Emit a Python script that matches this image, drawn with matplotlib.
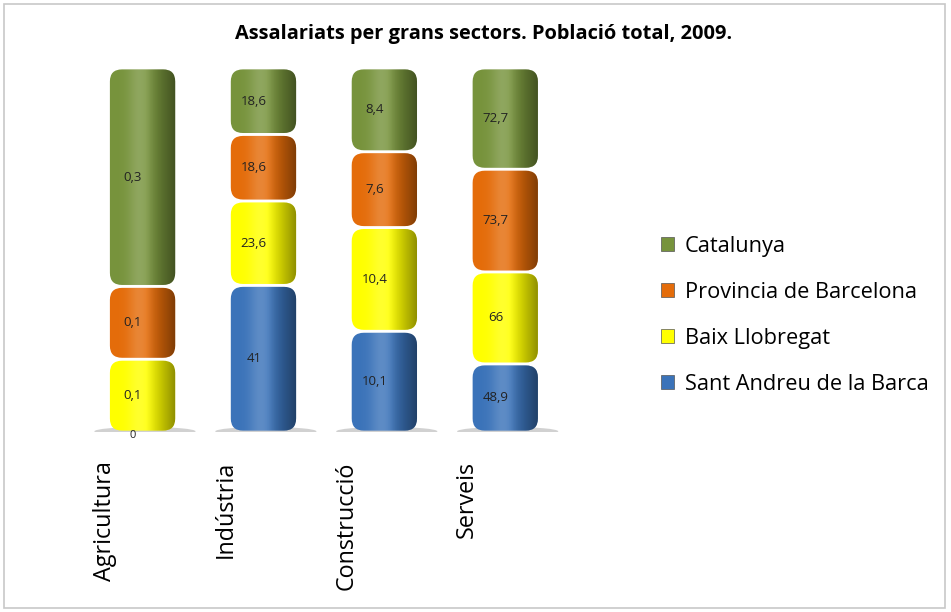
import numpy as np
import matplotlib
matplotlib.use("Agg")
import matplotlib.pyplot as plt
import matplotlib.transforms as mtransforms
from matplotlib.patches import FancyBboxPatch, Rectangle, Ellipse

plt.rcParams['font.family'] = ['Open Sans', 'DejaVu Sans']

title = 'Assalariats per grans sectors. Població total, 2009.'
sectors = ['Agricultura', 'Indústria', 'Construcció', 'Serveis']
series = ['Sant Andreu de la Barca', 'Baix Llobregat', 'Provincia de Barcelona', 'Catalunya']
sant_andreu = [0, 41, 10.1, 48.9]
baix_llobregat = [0.1, 23.6, 10.4, 66]
provincia_bcn = [0.1, 18.6, 7.6, 73.7]
catalunya = [0.3, 18.6, 8.4, 72.7]
colors = ['#3b73b9', '#ffff00', '#e46c0a', '#77933c']

values = np.array([sant_andreu, baix_llobregat, provincia_bcn, catalunya])
pct = values / values.sum(axis=0) * 100

fig = plt.figure(figsize=(9.51, 6.12), dpi=100)
# chart border
fig.patches.append(Rectangle((0.004, 0.006), 0.99, 0.988, transform=fig.transFigure,
                             fill=False, edgecolor='#c8c8c8', linewidth=1.2))

ax = fig.add_axes([0.0736, 0.294, 0.534, 0.595])
x = np.arange(len(sectors))
width = 0.54

# aspect for rounded corners (px per x unit / px per y unit)
px_x = 0.534 * 951 / 4.2
px_y = 0.595 * 612 / 100
asp = px_x / px_y

# base shadows
for xi in x:
    ax.add_patch(Ellipse((xi + 0.02, 0.2), width * 1.55, 2.4, color='#9a9a9a', alpha=0.45, lw=0, zorder=1))

t = np.linspace(0, 1, 100)
grad = np.zeros((1, 100, 4))
grad[0, :, 3] = np.clip((t - 0.55) / 0.45, 0, 1) * 0.45
hl = np.ones((1, 100, 4))
hl[0, :, 3] = np.exp(-((t - 0.45) / 0.18) ** 2) * 0.18

bottom = np.zeros(len(sectors))
for i, name in enumerate(series):
    bars = ax.bar(x, pct[i], width, bottom=bottom, color=colors[i], label=name)
    for j, b in enumerate(bars):
        b.set_visible(False)
        h = b.get_height()
        if h <= 0:
            continue
        x0, y0, w = b.get_x(), b.get_y(), b.get_width()
        gap = 0.4
        r = min(0.1, (h - 2 * gap) / asp / 2.2)
        p = FancyBboxPatch((x0, y0 + gap), w, max(h - 2 * gap, 0.1),
                           boxstyle=f"round,pad=0,rounding_size={max(r, 0.01)}",
                           mutation_aspect=asp, facecolor=colors[i],
                           edgecolor='none', zorder=2)
        ax.add_patch(p)
        for g in (grad, hl):
            im = ax.imshow(g, extent=(x0, x0 + w, y0, y0 + h), aspect='auto', zorder=3,
                           interpolation='bilinear')
            im.set_clip_path(p)
        lab = f"{values[i, j]:g}".replace('.', ',')
        ax.text(x0 + w / 2 - 0.08, y0 + h / 2, lab, ha='center', va='center',
                fontsize=9.5, color='#222222', zorder=4)
    bottom += pct[i]

# zero label for Agricultura
ax.text(x[0] - 0.08, -1.0, '0', ha='center', va='center', fontsize=8,
        color='#222222', zorder=4, clip_on=False)

ax.set_xlim(-0.6, 3.6)
ax.set_ylim(0, 100)
ax.set_xticks(x)
ax.set_xticklabels(sectors, rotation=90, fontsize=16.8)
ax.tick_params(axis='x', length=0, pad=21)
shift = mtransforms.ScaledTranslation(-38 / 100, 0, fig.dpi_scale_trans)
for tl in ax.get_xticklabels():
    tl.set_transform(tl.get_transform() + shift)
ax.set_yticks([])
for s in ax.spines.values():
    s.set_visible(False)

# legend
leg_h = [Rectangle((0, 0), 1, 1, facecolor=c, edgecolor='#555555', linewidth=0.5) for c in colors]
fig.legend(leg_h[::-1], series[::-1], loc='center left', bbox_to_anchor=(0.674, 0.485),
           frameon=False, fontsize=15.7, handlelength=0.62, handleheight=0.62,
           labelspacing=1.15, handletextpad=0.5)

fig.text(0.508, 0.944, title, ha='center', va='center', fontsize=14.4, fontweight='bold')

fig.savefig('out.png', dpi=100)
